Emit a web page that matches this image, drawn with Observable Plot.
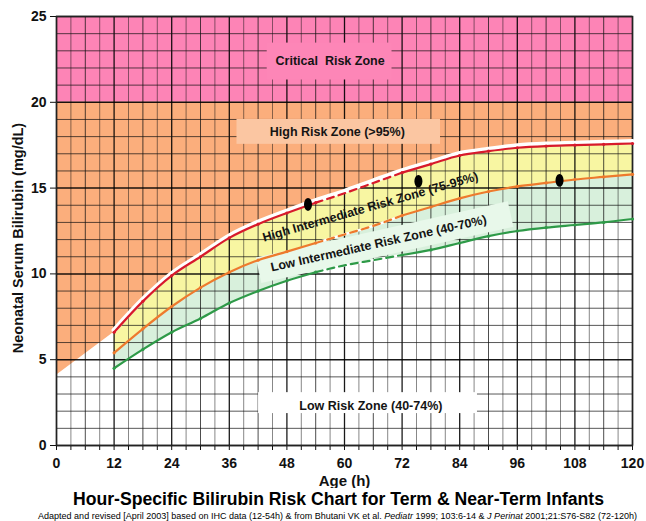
<!DOCTYPE html>
<html><head><meta charset="utf-8">
<script src="https://cdn.jsdelivr.net/npm/d3@7"></script>
<script src="https://cdn.jsdelivr.net/npm/@observablehq/plot@0.6"></script>
<style>
body{margin:0;background:#fff;width:646px;height:521px;overflow:hidden;}
#chart svg{display:block}
#foot{display:block}
</style></head><body>
<div id="chart"></div>
<svg id="foot" width="646" height="33"></svg>
<script>
// ---- data ----
const hours = [12,18,24,30,36,42,48,54,60,66,72,78,84,90,96,102,108,114,120];
const p95 = [6.6,8.4,9.9,11.0,12.1,12.9,13.55,14.15,14.7,15.3,15.9,16.4,16.9,17.15,17.35,17.45,17.5,17.55,17.6];
const p75 = [5.4,6.8,8.1,9.2,10.1,10.8,11.3,11.8,12.3,12.8,13.4,13.9,14.4,14.8,15.1,15.3,15.5,15.65,15.8];
const p40 = [4.5,5.6,6.6,7.4,8.3,9.0,9.6,10.1,10.5,10.8,11.1,11.4,11.8,12.2,12.5,12.7,12.85,13.0,13.2];

// high-risk zone lower edge before the curves start
const highEdgeHours = [0];
const highEdgeValues = [4.1];

// dashed (interpolated) part of the curves
const dashedFrom = 54, dashedTo = 72;

// patient measurements (black dots)
const obsHours = [52.4, 75.4, 104.8];
const obsValues = [14.05, 15.4, 15.45];

// zone limits
const criticalFrom = 20, criticalTo = 25;

// axis ticks
const xTickLabels = [0,12,24,36,48,60,72,84,96,108,120];
const yTickLabels = [0,5,10,15,20,25];

// zone labels
const labelTexts = ["Critical\u00a0 Risk Zone","High Risk Zone (>95%)","High Intermediate Risk Zone (75-95%)","Low Intermediate Risk Zone (40-70%)","Low Risk Zone (40-74%)"];
const labelHours = [57, 58.5, 65.4, 67.1, 65.5];
const labelValues = [22.4, 18.26, 13.9, 11.77, 2.33];
const labelAngles = [0, 0, -16, -12.6, 0];

// label boxes (rectangles)
const boxX1 = [43.9, 37.6, 42.1];
const boxX2 = [69.9, 80.0, 87.7];
const boxY1 = [21.3, 17.55, 1.86];
const boxY2 = [23.45, 19.0, 3.08];
const boxFill = ["#fd86b7", "#fbc6a2", "#ffffff"];
// rotated box under the low-intermediate label
const slantBoxHours = [42.1, 94.6];
const slantBoxValues = [10.21, 13.49];

const yTitle = "Neonatal Serum Bilirubin (mg/dL)";
const xTitle = "Age (h)";
const chartTitle = "Hour-Specific Bilirubin Risk Chart for Term & Near-Term Infants";

// ---- build tables ----
const series = hours.map((h,i)=>({h, p95:p95[i], p75:p75[i], p40:p40[i]}));
const highEdge = highEdgeHours.map((h,i)=>({h, v:highEdgeValues[i]})).concat(series.map(d=>({h:d.h, v:d.p95})));
const obs = obsHours.map((h,i)=>({h, v:obsValues[i]}));
const labels = labelTexts.map((t,i)=>({t, h:labelHours[i], v:labelValues[i], r:labelAngles[i]}));
const boxes = boxX1.map((x1,i)=>({x1, x2:boxX2[i], y1:boxY1[i], y2:boxY2[i], fill:boxFill[i]}));
const slantBox = slantBoxHours.map((h,i)=>({h, v:slantBoxValues[i]}));
const solidA = series.filter(d=>d.h<=dashedFrom);
const dashed = series.filter(d=>d.h>=dashedFrom && d.h<=dashedTo);
const solidB = series.filter(d=>d.h>=dashedTo);

const vMinor = d3.range(0,121,3).filter(d=>d%6!==0);
const vMid = d3.range(0,121,6).filter(d=>d%12!==0);
const vMajor = d3.range(0,121,12);
const hMinor = d3.range(0,26,1).filter(d=>d%5!==0);
const hMajor = d3.range(0,26,5);

const C = {red:"#d71a2b", orange:"#ee7a2c", green:"#2e9a48",
  pink:"#fd84b6", high:"#fbae7c", yellow:"#f8f6a2", mint:"#d8f0dc", mintBox:"#e8f8ea"};

const ellipse = {
  draw(ctx, size){
    const r = Math.sqrt(size/Math.PI), rx = r*0.63, ry = r, k = 0.5523;
    ctx.moveTo(rx,0);
    ctx.bezierCurveTo(rx,k*ry,k*rx,ry,0,ry);
    ctx.bezierCurveTo(-k*rx,ry,-rx,k*ry,-rx,0);
    ctx.bezierCurveTo(-rx,-k*ry,-k*rx,-ry,0,-ry);
    ctx.bezierCurveTo(k*rx,-ry,rx,-k*ry,rx,0);
    ctx.closePath();
  }
};

const curve = "monotone-x";
function pLines(key, color){
  return [
    Plot.line(solidA, {x:"h", y:key, stroke:color, strokeWidth:2.2, curve}),
    Plot.line(dashed, {x:"h", y:key, stroke:color, strokeWidth:2.2, strokeDasharray:"7,5", curve}),
    Plot.line(solidB, {x:"h", y:key, stroke:color, strokeWidth:2.2, curve})
  ];
}

const plot = Plot.plot({
  width: 646, height: 488,
  marginLeft: 56, marginRight: 14, marginTop: 16, marginBottom: 43,
  style: {fontFamily: "'Liberation Sans', Arial, sans-serif", fontWeight: "bold", fontSize: "14px", color: "#111", background: "#fff"},
  x: {domain: [0,120], ticks: d3.range(0,121,3), tickFormat: d => xTickLabels.includes(d) ? String(d) : "", tickSize: 5, tickPadding: 8, label: null},
  y: {domain: [0,25], ticks: yTickLabels, tickSize: 6, tickPadding: 4, label: null},
  color: {type: "identity"},
  marks: [
    // zones
    Plot.rect([{a:0,b:120}], {x1:"a", x2:"b", y1:criticalFrom, y2:criticalTo, fill:C.pink}),
    Plot.areaY(highEdge, {x:"h", y1:"v", y2:criticalFrom, fill:C.high}),
    Plot.areaY(series, {x:"h", y1:"p75", y2:"p95", fill:C.yellow, curve}),
    Plot.areaY(series, {x:"h", y1:"p40", y2:"p75", fill:C.mint, curve}),
    // grid
    Plot.ruleX(vMinor, {stroke:"#111", strokeOpacity:0.5, strokeWidth:1}),
    Plot.ruleX(vMid, {stroke:"#111", strokeOpacity:0.75, strokeWidth:1}),
    Plot.ruleX(vMajor, {stroke:"#000", strokeOpacity:0.9, strokeWidth:1.3}),
    Plot.ruleY(hMinor, {stroke:"#111", strokeOpacity:0.7, strokeWidth:1}),
    Plot.ruleY(hMajor, {stroke:"#000", strokeOpacity:0.9, strokeWidth:1.5}),
    // label boxes
    Plot.rect(boxes, {x1:"x1", x2:"x2", y1:"y1", y2:"y2", fill:"fill"}),
    Plot.line(slantBox, {x:"h", y:"v", stroke:C.mintBox, strokeWidth:26, strokeLinecap:"butt"}),
    Plot.frame({stroke:"#222", strokeWidth:1.5}),
    // curves
    Plot.line(series, {x:"h", y:"p95", stroke:"#fff", strokeWidth:5, dy:-2, curve}),
    Plot.line(dashed, {x:"h", y:"p75", stroke:"#fff", strokeWidth:2.4, curve}),
    Plot.line(dashed, {x:"h", y:"p40", stroke:"#fff", strokeWidth:2.4, curve}),
    ...pLines("p40", C.green),
    ...pLines("p75", C.orange),
    ...pLines("p95", C.red),
    Plot.dot(solidA.concat(solidB), {x:"h", y:"p40", r:1.6, fill:C.green}),
    Plot.dot(solidA.concat(solidB), {x:"h", y:"p75", r:1.6, fill:C.orange}),
    Plot.dot(solidA.concat(solidB), {x:"h", y:"p95", r:1.6, fill:C.red}),
    // observations
    Plot.dot(obs, {x:"h", y:"v", r:6.3, symbol:ellipse, fill:"#000", stroke:"none"}),
    // labels
    Plot.text(labels, {x:"h", y:"v", text:"t", rotate:"r", fontSize:12.5, fontWeight:"bold", fill:"#141414"}),
    Plot.text([yTitle], {frameAnchor:"left", textAnchor:"middle", lineAnchor:"middle", dx:-38, dy:7, rotate:-90, fontSize:14.5, fontWeight:"bold", fill:"#111"}),
    Plot.text([xTitle], {frameAnchor:"bottom", lineAnchor:"middle", dy:36, fontSize:15, fontWeight:"bold", fill:"#111"})
  ]
});
document.getElementById("chart").append(plot);

// footer: title and source note
const foot = d3.select("#foot");
foot.append("text")
  .attr("x", 338.5).attr("y", 17)
  .attr("text-anchor", "middle")
  .attr("textLength", 531).attr("lengthAdjust", "spacingAndGlyphs")
  .style("font-family", "'Liberation Sans', Arial, sans-serif")
  .style("font-weight", "bold").style("font-size", "17.5px").style("fill", "#000")
  .text(chartTitle);
const cap = foot.append("text")
  .attr("x", 38).attr("y", 31)
  .attr("textLength", 599).attr("lengthAdjust", "spacingAndGlyphs")
  .style("font-family", "'Liberation Sans', Arial, sans-serif")
  .style("font-size", "8.5px").style("fill", "#000");
const parts = [
  ["Adapted and revised [April 2003] based on IHC data (12-54h) & from Bhutani VK et al. ", "normal"],
  ["Pediatr", "italic"],
  [" 1999; 103:6-14 & ", "normal"],
  ["J Perinat", "italic"],
  [" 2001;21:S76-S82 (72-120h)", "normal"]
];
parts.forEach(([t, s]) => cap.append("tspan").style("font-style", s).text(t));
</script></body></html>
